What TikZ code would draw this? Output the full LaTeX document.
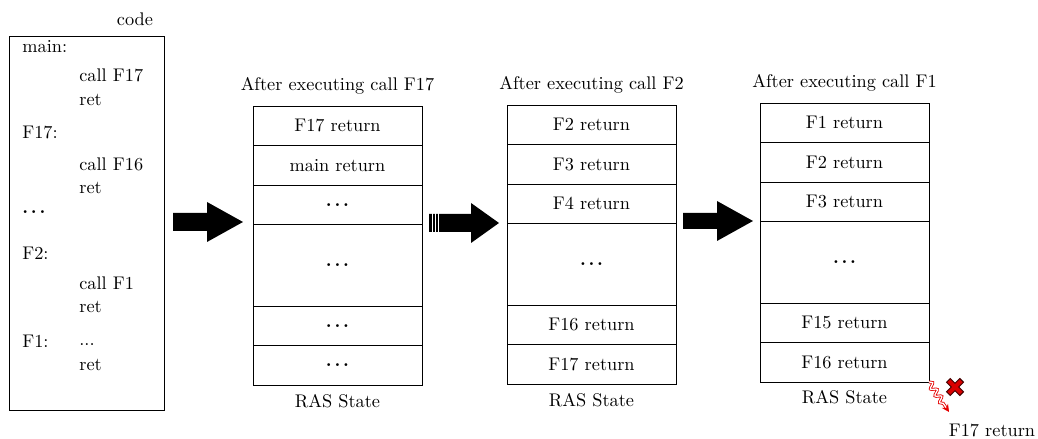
\documentclass[tikz,border=0pt]{standalone}
\usetikzlibrary{arrows.meta,decorations.pathmorphing}
\newcommand\rasstack[9]{%
  \node[cell] (#1a) at (#2,#3) {#4};
  \node[cell] (#1b) at (#1a.south) {#5};
  \node[cell] (#1c) at (#1b.south) {#6};
  \node[bigcell] (#1d) at (#1c.south) {#7};
  \node[cell] (#1e) at (#1d.south) {#8};
  \node[cell] (#1f) at (#1e.south) {#9};
}
\newcommand\bdots{\textbf{.\kern1.5pt.\kern1.5pt.}}
\begin{document}
\begin{tikzpicture}[x=0.5464pt,y=-0.5464pt,
  cell/.style={draw, line width=0.5pt, minimum width=92.3pt, minimum height=21.58pt,
    anchor=north, inner sep=0pt, outer sep=0pt},
  bigcell/.style={cell, minimum height=44.53pt},
  codetxt/.style={anchor=west, inner sep=0pt, text height=1.5ex, text depth=.25ex},
  bigarrow/.style={fill=black},
  snk/.style={draw=red!90!black, double=white, double distance=0.7pt, line width=0.45pt,
    -{Stealth[length=4pt,width=4pt,fill=red!90!black]},
    decorate, decoration={snake, amplitude=1.5pt, segment length=4.5pt, post length=3.5pt}}]
\useasboundingbox (0,0) rectangle (1038,439);

% code box
\node[draw, line width=0.5pt, anchor=north west, minimum width=84.7pt, minimum height=204.4pt,
  inner sep=0pt, outer sep=0pt] (codebox) at (9,36) {};
\node (codelbl) at (135,19) {code};
\node[codetxt] (lmain) at (22,48) {main:};
\node[codetxt] (c1) at (79,77) {call F17};
\node[codetxt] (r1) at (79,101) {ret};
\node[codetxt] (lf17) at (22,134) {F17:};
\node[codetxt] (c2) at (79,166) {call F16};
\node[codetxt] (r2) at (79,189) {ret};
\node[codetxt] (cdots) at (22,209) {\bdots};
\node[codetxt] (lf2) at (22,255) {F2:};
\node[codetxt] (c3) at (79,285) {call F1};
\node[codetxt] (r3) at (79,308) {ret};
\node[codetxt] (lf1) at (22,343) {F1:};
\node[codetxt] (c4) at (79,341) {...};
\node[codetxt] (r4) at (79,366) {ret};

% stacks
\rasstack{s1}{337.5}{106}{F17 return}{main return}{\bdots}{\bdots}{\bdots}{\bdots}
\rasstack{s2}{591.5}{105}{F2 return}{F3 return}{F4 return}{\bdots}{F16 return}{F17 return}
\rasstack{s3}{844.5}{103}{F1 return}{F2 return}{F3 return}{\bdots}{F15 return}{F16 return}

\node (t1) at (337.5,86) {After executing call F17};
\node (t2) at (591.5,85) {After executing call F2};
\node (t3) at (844.5,83) {After executing call F1};
\node (b1) at (337.5,401) {RAS State};
\node (b2) at (591.5,400) {RAS State};
\node (b3) at (844.5,397) {RAS State};

% big arrows
\fill[bigarrow] (173,213) -- (207,213) -- (207,202) -- (243,222) -- (207,242) -- (207,231) -- (173,231) -- cycle;
\fill[bigarrow] (429,214) -- (471,214) -- (471,203) -- (499,223) -- (471,243) -- (471,232) -- (429,232) -- cycle;
\foreach \sx in {432,435,438} \draw[white, line width=0.45pt] (\sx,213) -- (\sx,233);
\fill[bigarrow] (683,213) -- (717,213) -- (717,201) -- (753,221) -- (717,241) -- (717,229) -- (683,229) -- cycle;

% lost entry
\coordinate (lostend) at (949,412);
\draw[snk] (s3f.south east) -- (lostend);
\node (lost) at (992,430) {F17 return};
\coordinate (xc) at (955,387);
\draw[line width=3.4pt, black!75!red] ([shift={(-7,-7)}]xc) -- ([shift={(7,7)}]xc)
  ([shift={(-7,7)}]xc) -- ([shift={(7,-7)}]xc);
\draw[line width=2.2pt, red!85!black] ([shift={(-6.2,-6.2)}]xc) -- ([shift={(6.2,6.2)}]xc)
  ([shift={(-6.2,6.2)}]xc) -- ([shift={(6.2,-6.2)}]xc);
\end{tikzpicture}
\end{document}
